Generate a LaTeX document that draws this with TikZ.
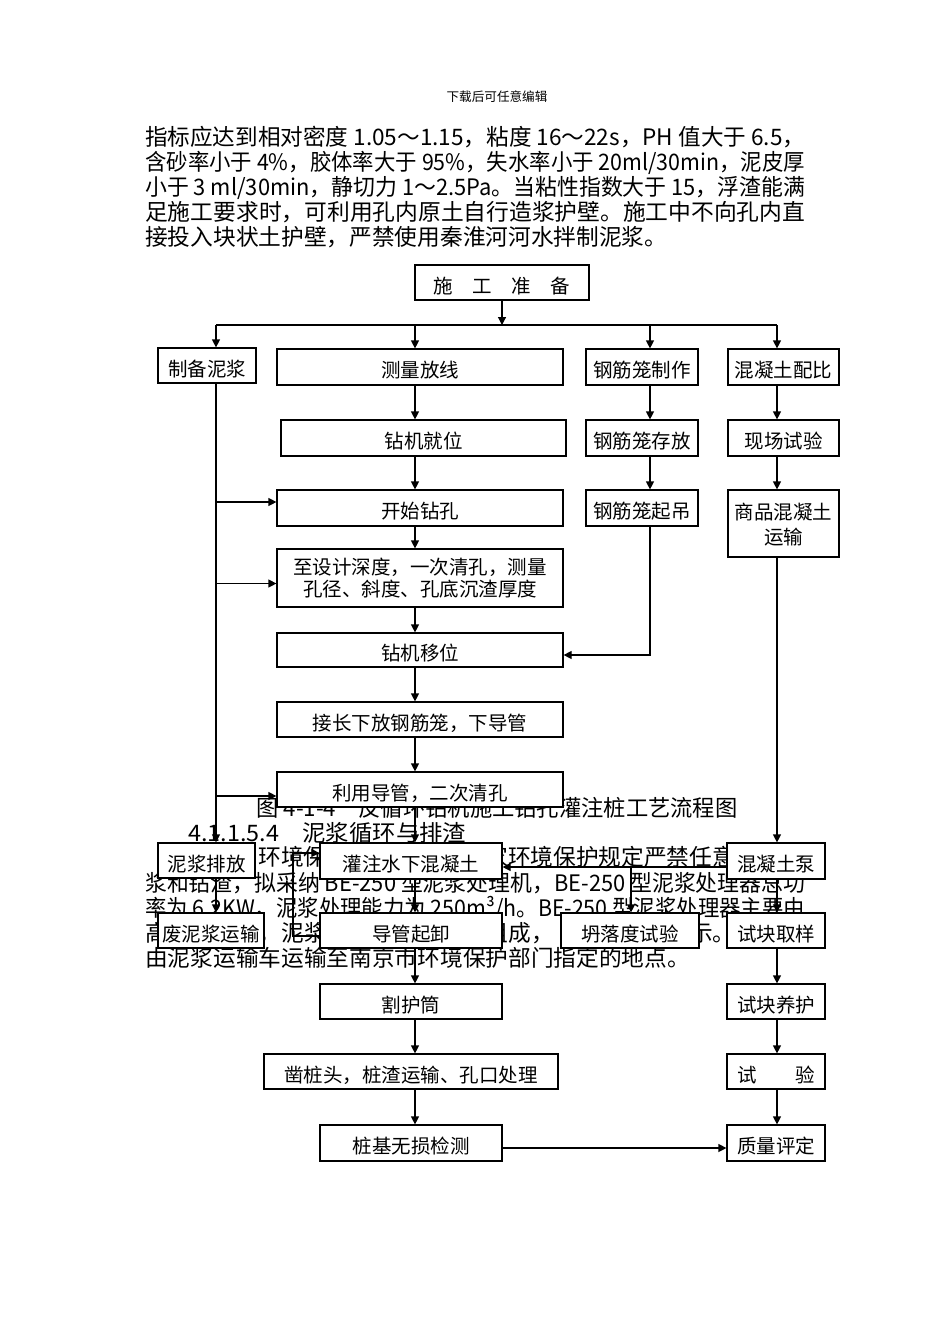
\documentclass[tikz,border=0pt]{standalone}
\usepackage{fontspec}
\usepackage{graphicx}
\setmainfont{Noto Sans CJK SC}
\usetikzlibrary{arrows.meta}
\newcommand{\fillline}[2][660pt]{\resizebox{#1}{\height}{#2}}

\begin{document}
\begin{tikzpicture}[x=1pt,y=-1pt,
  box/.style={draw,line width=1.2pt,fill=white,inner sep=0pt,align=center,font=\fontsize{19.5}{23}\selectfont},
  cell/.style={box,text height=24pt,text depth=2.2pt},
  sz/.style 2 args={minimum width=#1pt,minimum height=#2pt},
  para/.style={anchor=base west,inner sep=0pt,font=\fontsize{22.7}{25}\selectfont},
  link/.style={line width=1.2pt},
  flow/.style={line width=1.2pt,-{Triangle[length=8pt,width=8pt]}}]
\useasboundingbox (0,0) rectangle (950,1344);
\node[font=\fontsize{12.6}{14}\selectfont] (hdr) at (497,97) {下载后可任意编辑};
\node[para] (p1) at (145,145.5) {\fillline{指标应达到相对密度 1.05～1.15，粘度 16～22s，PH 值大于 6.5，}};
\node[para] (p2) at (145,170.5) {\fillline{含砂率小于 4\%，胶体率大于 95\%，失水率小于 20ml/30min，泥皮厚}};
\node[para] (p3) at (145,195.5) {\fillline{小于 3 ml/30min，静切力 1～2.5Pa。当粘性指数大于 15，浮渣能满}};
\node[para] (p4) at (145,220.5) {\fillline{足施工要求时，可利用孔内原土自行造浆护壁。施工中不向孔内直}};
\node[para] (p5) at (145,245.5) {接投入块状土护壁，严禁使用秦淮河河水拌制泥浆。};
\node[para,anchor=base] (cap) at (497,816.5) {\fillline[481pt]{图 4-1-4　反循环钻机施工钻孔灌注桩工艺流程图}};
\node[para] (sec) at (188,841.5) {\fillline[278pt]{4.1.1.5.4　泥浆循环与排渣}};
\node[para] (q1a) at (258.1,865.5) {环境保};
\node[para] (q1b) at (485.1,865.5) {家环境保护规定严禁任意};
\node[para] (q2) at (145,891.5) {\fillline{浆和钻渣，拟采纳 BE-250 型泥浆处理机，BE-250 型泥浆处理器总功}};
\node[para] (q3) at (145,916.5) {\fillline{率为 6.2KW，泥浆处理能力为 250m³/h。BE-250 型泥浆处理器主要由}};
\node[para] (q4a) at (145,941.5) {高};
\node[para] (q4b) at (258.5,941.5) {，泥浆};
\node[para] (q4c) at (485.5,941.5) {组成，};
\node[para] (q4d) at (689.8,941.5) {示。};
\node[para] (q5) at (145,966.5) {由泥浆运输车运输至南京市环境保护部门指定的地点。};

\node[cell,sz={174}{35}] (prep) at (502,282.5) {施　工　准　备};
\node[cell,sz={98}{35}] (mud) at (207,365.5) {制备泥浆};
\node[cell,sz={286}{36}] (survey) at (420,367) {测量放线};
\node[cell,sz={112}{36}] (cagemake) at (642,367) {钢筋笼制作};
\node[cell,sz={111}{36}] (mix) at (783.5,367) {混凝土配比};
\node[cell,sz={285}{36}] (rigpos) at (423.5,438) {钻机就位};
\node[cell,sz={112}{36}] (cagestore) at (642,438) {钢筋笼存放};
\node[cell,sz={111}{36}] (fieldtest) at (783.5,438) {现场试验};
\node[cell,sz={286}{36}] (drill) at (420,508) {开始钻孔};
\node[cell,sz={112}{36}] (cagelift) at (642,508) {钢筋笼起吊};
\node[box,sz={111}{67},font=\fontsize{19.5}{25}\selectfont] (transport) at (783.5,523.5) {\rule{0pt}{18pt}商品混凝土\\运输};
\node[box,sz={286}{58},font=\fontsize{19.5}{22}\selectfont] (depth) at (420,578) {至设计深度，一次清孔，测量\\孔径、斜度、孔底沉渣厚度};
\node[cell,sz={286}{34}] (rigmove) at (420,650) {钻机移位};
\node[cell,sz={286}{35}] (cage) at (420,719.5) {接长下放钢筋笼，下导管};
\node[cell,sz={286}{35}] (clean) at (420,789.5) {利用导管，二次清孔};
\node[cell,sz={97}{35}] (discharge) at (206.5,860.5) {泥浆排放};
\node[cell,sz={182}{36}] (pour) at (411,861) {灌注水下混凝土};
\node[cell,sz={98}{36}] (pump) at (776,861) {混凝土泵};
\node[cell,sz={106}{35}] (waste) at (211,930.5) {废泥浆运输};
\node[cell,sz={182}{35}] (pipe) at (411,930.5) {导管起卸};
\node[cell,sz={138}{35}] (slump) at (630,930.5) {坍落度试验};
\node[cell,sz={98}{35}] (sample) at (776,930.5) {试块取样};
\node[cell,sz={182}{35}] (casing) at (411,1001.5) {割护筒};
\node[cell,sz={98}{35}] (cure) at (776,1001.5) {试块养护};
\node[cell,sz={294}{35}] (head) at (411,1071.5) {凿桩头，桩渣运输、孔口处理};
\node[cell,sz={98}{35}] (test) at (776,1071.5) {试　　验};
\node[cell,sz={182}{36}] (nde) at (411,1143) {桩基无损检测};
\node[cell,sz={98}{36}] (quality) at (776,1143) {质量评定};

\coordinate (bus) at (502,325);
\coordinate (cA) at (216,0);
\coordinate (cB) at (415,0);
\coordinate (cC) at (650,0);
\coordinate (cD) at (777,0);
\coordinate (cE) at (631,0);
\coordinate (cF) at (293,0);
\coordinate (inD) at ([yshift=6pt]drill.west);
\coordinate (inS) at ([yshift=-5.5pt]depth.west);
\coordinate (inC) at ([yshift=-6.5pt]clean.west);
\coordinate (inP) at ([yshift=8pt]pour.west);
\coordinate (outM) at ([yshift=-6pt]pump.west);

\draw[flow] (prep) -- (prep.south |- bus);
\draw[link] (cA |- bus) -- (cD |- bus);
\foreach \p/\q in {cA/mud,cB/survey,cC/cagemake,cD/mix}
  \draw[flow] (\p |- bus) -- (\p |- \q.north);
\foreach \p/\q in {survey/rigpos,rigpos/drill,drill/depth,depth/rigmove,rigmove/cage,cage/clean,clean/pour,pour/pipe,pipe/casing,casing/head,head/nde}
  \draw[flow] (cB |- \p.south) -- (cB |- \q.north);
\foreach \p/\q in {cagemake/cagestore,cagestore/cagelift}
  \draw[flow] (cC |- \p.south) -- (cC |- \q.north);
\foreach \p/\q in {mix/fieldtest,fieldtest/transport,transport/pump,pump/sample,sample/cure,cure/test,test/quality}
  \draw[flow] (cD |- \p.south) -- (cD |- \q.north);
\draw[flow] (cC |- cagelift.south) |- ([yshift=-5pt]rigmove.east);
\draw[flow] (cA |- mud.south) -- (cA |- discharge.north);
\draw[flow] (cA |- discharge.south) -- (cA |- waste.north);
\foreach \q in {inD,inS,inC}
  \draw[flow] (cA |- \q) -- (\q);
\draw[flow] ([yshift=-5.5pt]pipe.west) -| (cF |- inP) -- (inP);
\draw[flow] (outM) -- (pour.east |- outM);
\draw[flow] (cE |- outM) -- (cE |- slump.north);
\draw[flow] ([yshift=-5pt]nde.east) -- ([yshift=-5pt]quality.west);
\end{tikzpicture}
\end{document}
